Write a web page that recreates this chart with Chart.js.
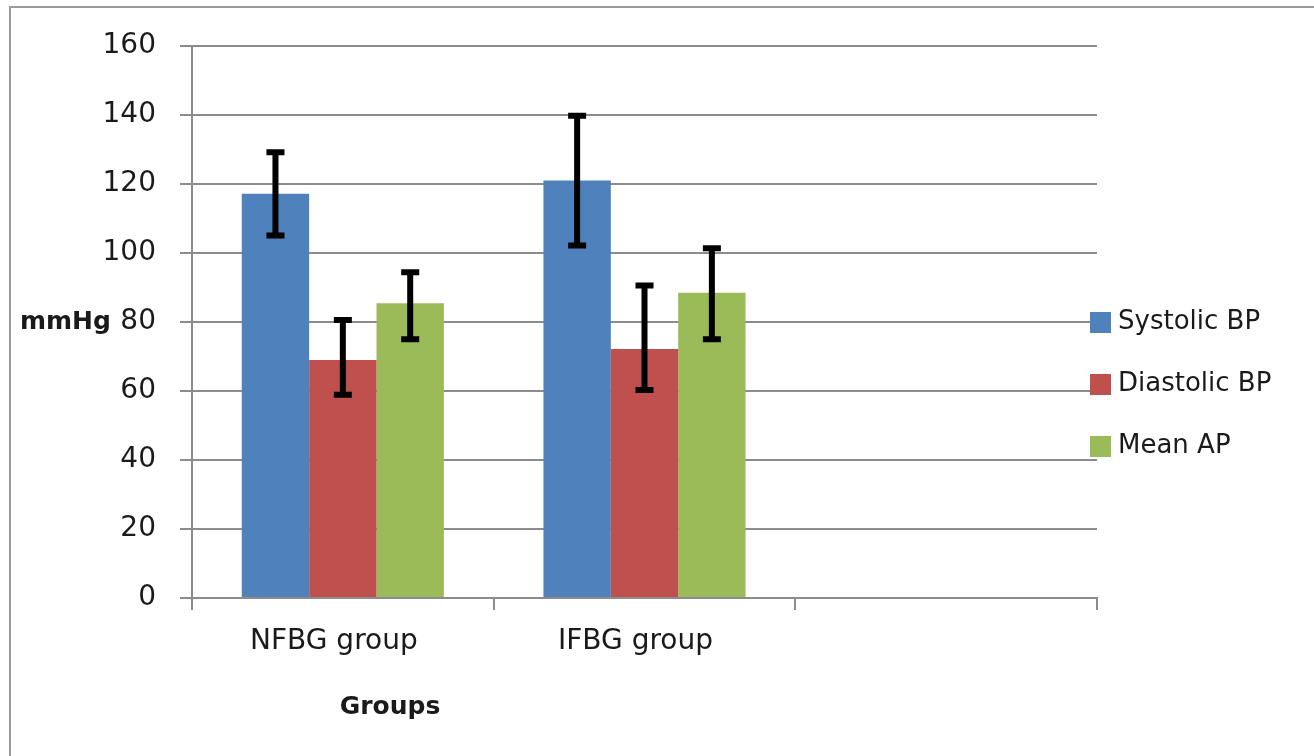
<!DOCTYPE html>
<html>
<head>
<meta charset="utf-8">
<script src="https://cdn.jsdelivr.net/npm/chart.js@4"></script>
<style>
  html, body { margin: 0; padding: 0; background: #fff; }
  #wrap { width: 1314px; height: 756px; }
</style>
</head>
<body>
<div id="wrap"><canvas id="grafico" width="1314" height="756"></canvas></div>
<script>
// Dados
const categorias = ['NFBG group', 'IFBG group', ''];
const seriesNomes = ['Systolic BP', 'Diastolic BP', 'Mean AP'];

const sistolica = [117.2, 121.0, null];
const sistolicaMin = [105.1, 102.2, null];
const sistolicaMax = [129.2, 139.8, null];

const diastolica = [69.0, 72.2, null];
const diastolicaMin = [58.9, 60.3, null];
const diastolicaMax = [80.6, 90.6, null];

const mediaAP = [85.4, 88.5, null];
const mediaAPMin = [75.0, 75.0, null];
const mediaAPMax = [94.4, 101.4, null];

const yTicks = [0, 20, 40, 60, 80, 100, 120, 140, 160];

const cores = ['#4F81BD', '#C0504D', '#9BBB59'];
const cinza = '#8c8c8c';
const fonte = '"DejaVu Sans"';

// Moldura externa (só bordas de cima e da esquerda aparecem)
const moldura = {
  id: 'moldura',
  beforeDraw(chart) {
    const ctx = chart.ctx;
    ctx.save();
    ctx.fillStyle = '#fff';
    ctx.fillRect(0, 0, chart.width, chart.height);
    ctx.strokeStyle = '#9a9a9a';
    ctx.lineWidth = 2;
    ctx.strokeRect(10, 7, 1400, 800);
    ctx.restore();
  }
};

// Barras de erro
const barrasErro = {
  id: 'barrasErro',
  afterDatasetsDraw(chart) {
    const ctx = chart.ctx;
    const y = chart.scales.y;
    ctx.save();
    ctx.strokeStyle = '#000';
    ctx.lineWidth = 6;
    chart.data.datasets.forEach((ds, di) => {
      const meta = chart.getDatasetMeta(di);
      meta.data.forEach((bar, i) => {
        if (ds.erroMin[i] == null) return;
        const x = bar.x;
        const y1 = y.getPixelForValue(ds.erroMin[i]);
        const y2 = y.getPixelForValue(ds.erroMax[i]);
        ctx.beginPath();
        ctx.moveTo(x, y1);
        ctx.lineTo(x, y2);
        ctx.moveTo(x - 9, y1);
        ctx.lineTo(x + 9, y1);
        ctx.moveTo(x - 9, y2);
        ctx.lineTo(x + 9, y2);
        ctx.stroke();
      });
    });
    ctx.restore();
  }
};

// Títulos dos eixos e legenda
const textos = {
  id: 'textos',
  afterDraw(chart) {
    const ctx = chart.ctx;
    const area = chart.chartArea;
    const y = chart.scales.y;
    ctx.save();
    ctx.fillStyle = '#1a1a1a';
    ctx.textBaseline = 'middle';
    ctx.font = 'bold 25px ' + fonte;
    ctx.textAlign = 'left';
    ctx.fillText('mmHg', 20, y.getPixelForValue(80));
    ctx.textAlign = 'center';
    ctx.fillText('Groups', 390, 707);

    // legenda
    ctx.font = '26px ' + fonte;
    ctx.textAlign = 'left';
    chart.data.datasets.forEach((ds, i) => {
      const cy = 322 + i * 62;
      ctx.fillStyle = ds.backgroundColor;
      ctx.fillRect(area.right - 7, cy - 10, 21, 21);
      ctx.fillStyle = '#1a1a1a';
      ctx.fillText(ds.label, area.right + 21, cy);
    });
    ctx.restore();
  }
};

function renderGrafico() {
  const ctx = document.getElementById('grafico').getContext('2d');
  const valores = [sistolica, diastolica, mediaAP];
  const mins = [sistolicaMin, diastolicaMin, mediaAPMin];
  const maxs = [sistolicaMax, diastolicaMax, mediaAPMax];

  new Chart(ctx, {
    type: 'bar',
    data: {
      labels: categorias,
      datasets: seriesNomes.map((nome, i) => ({
        label: nome,
        data: valores[i],
        erroMin: mins[i],
        erroMax: maxs[i],
        backgroundColor: cores[i],
        borderWidth: 0,
        categoryPercentage: 0.67,
        barPercentage: 1.0
      }))
    },
    options: {
      responsive: false,
      animation: false,
      devicePixelRatio: 1,
      layout: { padding: { top: 46, right: 217, left: 0, bottom: 0 } },
      plugins: {
        legend: { display: false },
        tooltip: { enabled: false }
      },
      scales: {
        x: {
          afterFit(scale) { scale.height = 158; },
          grid: {
            offset: true,
            drawOnChartArea: false,
            drawTicks: true,
            tickLength: 12,
            color: cinza,
            lineWidth: 2
          },
          border: { color: cinza, width: 2 },
          ticks: {
            color: '#1a1a1a',
            font: { family: fonte, size: 28 },
            padding: 15,
            labelOffset: -9
          }
        },
        y: {
          min: 0,
          max: 160,
          afterFit(scale) { scale.width = 192; },
          afterBuildTicks(scale) { scale.ticks = yTicks.map(v => ({ value: v })); },
          grid: {
            color: cinza,
            lineWidth: 2,
            tickLength: 12
          },
          border: { color: cinza, width: 2 },
          ticks: {
            color: '#1a1a1a',
            font: { family: fonte, size: 28 },
            padding: 24
          }
        }
      }
    },
    plugins: [moldura, barrasErro, textos]
  });
}

renderGrafico();
</script>
</body>
</html>
